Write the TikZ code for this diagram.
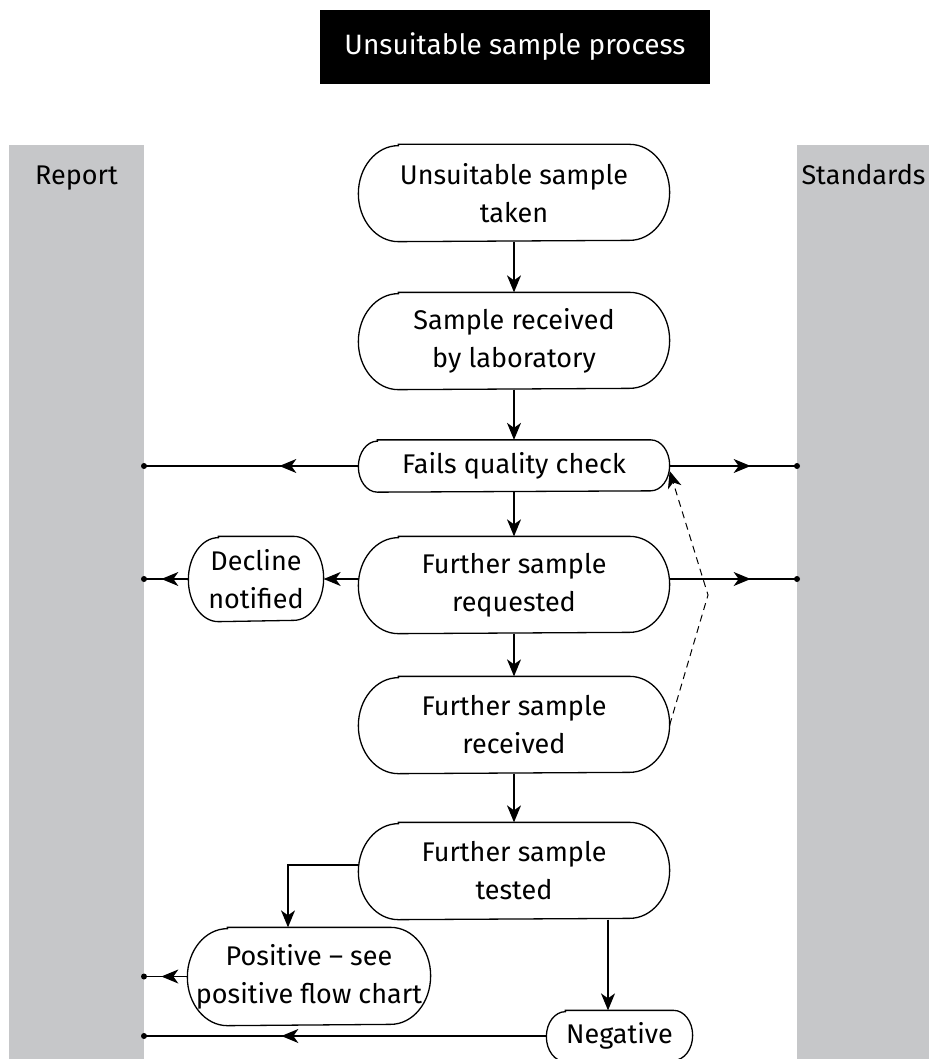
\documentclass[tikz,border=0pt]{standalone}
\usepackage{fontspec}
\setmainfont{Fira Sans}
\usetikzlibrary{arrows.meta,decorations.markings}
\definecolor{lanegray}{RGB}{198,199,201}

% outline of a process box: straight top and bottom, half-elliptic ends
% #1 node name, #2 horizontal radius of the ends, #3 half of the box height
\newcommand\capsule[3]{%
  \draw[outline] ([xshift=#2pt]#1.north west) -- ([xshift=-#2pt]#1.north east)
    arc[start angle=90,end angle=-90,x radius=#2pt,y radius=#3pt]
    -- ([xshift=#2pt]#1.south west)
    arc[start angle=270,end angle=90,x radius=#2pt,y radius=#3pt] -- cycle;}

\begin{document}
\begin{tikzpicture}[x=1pt,y=-1pt,
  font=\fontsize{27}{38}\selectfont,
  line width=1.3pt,
  >={Stealth[length=17pt,width=14pt,inset=5pt]},
  box/.style={align=center,inner sep=0pt},
  outline/.style={line width=1.3pt},
  lanelabel/.style={anchor=base,inner sep=0pt},
  lanedot/.style={circle,fill,inner sep=0pt,minimum size=6pt},
  lanelink/.style={postaction={decorate},
    decoration={markings,mark=at position #1 with {\arrow{>}}}},
  loopback/.style={->,dashed,line width=1pt,dash pattern=on 7pt off 5pt}]

\useasboundingbox (0,0) rectangle (929,1059);

% swim lanes
\fill[lanegray] (9,145) rectangle (144,1059);
\fill[lanegray] (797,145) rectangle (929,1059);
\node[lanelabel] (report) at (76.5,185) {Report};
\node[lanelabel] (standards) at (863.5,185) {Standards};

% title bar
\node[fill=black,text=white,minimum width=390pt,minimum height=74pt,inner sep=0pt,
  font=\fontsize{28}{34}\selectfont] (title) at (515,47) {Unsuitable sample process};

% process boxes
\node[box,minimum width=310pt,minimum height=96pt] (n1) at (514,193) {Unsuitable sample\\taken};
\node[box,minimum width=310pt,minimum height=96pt] (n2) at (514,341) {Sample received\\by laboratory};
\node[box,minimum width=310pt,minimum height=51pt] (n3) at (514,466) {Fails quality check};
\node[box,minimum width=310pt,minimum height=96pt] (n4) at (514,585) {Further sample\\requested};
\node[box,minimum width=134pt,minimum height=84pt] (dec) at (256,579) {Decline\\notified};
\node[box,minimum width=310pt,minimum height=96pt] (n6) at (514,725) {Further sample\\received};
\node[box,minimum width=310pt,minimum height=96pt] (n7) at (514,871) {Further sample\\tested};
\node[box,minimum width=242pt,minimum height=97pt] (pos) at (309,976.5) {Positive -- see\\positive flow chart};
\node[box,minimum width=145pt,minimum height=50pt] (neg) at (619.5,1036) {Negative};

\capsule{n1}{40}{48}
\capsule{n2}{40}{48}
\capsule{n3}{19}{25.5}
\capsule{n4}{40}{48}
\capsule{dec}{30}{42}
\capsule{n6}{40}{48}
\capsule{n7}{40}{48}
\capsule{pos}{40}{48.5}
\capsule{neg}{19}{25}

% lane end points
\node[lanedot] (l1) at (144,466) {};
\node[lanedot] (r1) at (797,466) {};
\node[lanedot] (l2) at (144,579) {};
\node[lanedot] (r2) at (797,579) {};
\node[lanedot] (l3) at (144,976.5) {};
\node[lanedot] (l4) at (144,1036) {};

% main flow
\draw[->] (n1.south) -- (n2.north);
\draw[->] (n2.south) -- (n3.north);
\draw[->] (n3.south) -- (n4.north);
\draw[->] (n4.south) -- (n6.north);
\draw[->] (n6.south) -- (n7.north);
\draw[->] ([yshift=6pt]n4.west) -- (dec.east);
\draw[->] ([yshift=6pt]n7.west) -| ([xshift=-21pt]pos.north);
\draw[->] ([xshift=94pt]n7.south) -- ([xshift=-11.5pt]neg.north);

% links into the lanes
\draw[lanelink=79pt] (n3.west) -- (l1.center);
\draw[lanelink=81pt] (n3.east) -- (r1.center);
\draw[lanelink=81pt] ([yshift=6pt]n4.east) -- (r2.center);
\draw[lanelink=27pt] (dec.west) -- (l2.center);
\draw[lanelink=26pt] (pos.west) -- (l3.center);
\draw[lanelink=265pt] (neg.west) -- (l4.center);

% resubmission loop
\coordinate (bend) at (708,595);
\draw[loopback] (n6.east) -- (bend) -- ([yshift=-5pt]n3.east);
\end{tikzpicture}
\end{document}
